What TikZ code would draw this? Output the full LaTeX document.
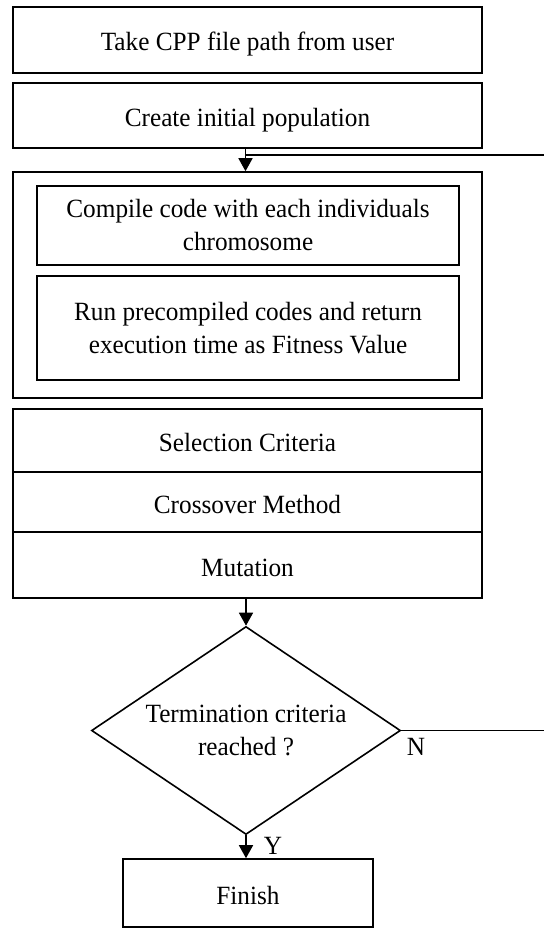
\documentclass[tikz,border=0pt]{standalone}
\usepackage{fontspec}
\setmainfont[FakeStretch=0.96]{Liberation Serif}
\usetikzlibrary{shapes.geometric,arrows.meta}
\begin{document}
\begin{tikzpicture}[x=1pt,y=-1pt,
  box/.style={draw,line width=1.6pt,rectangle,inner sep=0pt,align=center,font=\fontsize{26.3}{33}\selectfont},
  single/.style={text height=22pt,text depth=0pt},
  lbl/.style={inner sep=0pt,font=\fontsize{26.3}{33}\selectfont},
  arr/.style={line width=1.6pt,-{Triangle[length=13pt,width=14pt]}},
  ln/.style={line width=1.6pt}]
\useasboundingbox (0,0) rectangle (544,928);
\node[box,single,minimum width=469pt,minimum height=66pt] (take) at (247.5,40) {Take CPP file path from user};
\node[box,single,minimum width=469pt,minimum height=65pt] (init) at (247.5,115.5) {Create initial population};
\node[box,minimum width=469pt,minimum height=226pt] (outer) at (247.5,285) {};
\node[box,minimum width=422pt,minimum height=79pt] (comp) at (248,225.5) {Compile code with each individuals\\chromosome};
\node[box,minimum width=422pt,minimum height=104pt] (run) at (248,328) {Run precompiled codes and return\\execution time as Fitness Value};
\node[box,single,minimum width=469pt,minimum height=63pt] (sel) at (247.5,440.5) {Selection Criteria};
\node[box,single,minimum width=469pt,minimum height=60pt] (cross) at (247.5,502) {Crossover Method};
\node[box,single,minimum width=469pt,minimum height=66pt] (mut) at (247.5,565) {Mutation};
\node[box,shape=diamond,aspect=1.486,minimum width=309pt,minimum height=208pt] (term) at (246,730.5) {Termination criteria\\reached ?};
\node[box,single,minimum width=250pt,minimum height=68pt] (fin) at (248,893) {Finish};
\coordinate (fbtop) at (544,155);
\coordinate (fbN) at (544,730.5);
\coordinate (arrtop) at (245.5,155);
\draw[arr] (init.south -| arrtop) -- (outer.north -| arrtop);
\draw[ln] (arrtop) -- (fbtop);
\draw[arr] (mut.south -| term.north) -- (term.north);
\draw[arr] (term.south) -- (fin.north -| term.south);
\draw[ln] (term.east) -- (fbN);
\node[lbl] (ylab) at (273,846) {Y};
\node[lbl] (nlab) at (416,747) {N};
\end{tikzpicture}
\end{document}
